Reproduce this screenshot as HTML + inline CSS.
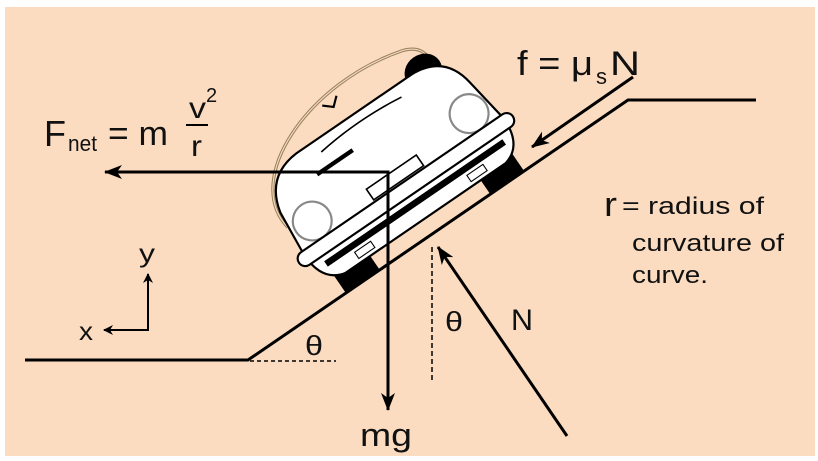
<!DOCTYPE html>
<html><head><meta charset="utf-8"><style>
html,body{margin:0;padding:0;background:#fff;}
svg{display:block;}
text{font-family:"Liberation Sans",sans-serif;fill:#111;}
</style></head><body>
<svg width="818" height="461" viewBox="0 0 818 461" xmlns="http://www.w3.org/2000/svg">
<defs>
<marker id="ah" markerWidth="10" markerHeight="10" refX="9" refY="5" orient="auto" markerUnits="userSpaceOnUse">
<path d="M0,0 L10,5 L0,10 L3,5 Z" fill="#000"/>
</marker>
<marker id="ahb" markerWidth="18" markerHeight="14" refX="17" refY="7" orient="auto" markerUnits="userSpaceOnUse">
<path d="M0,0 L18,7 L0,14 L5,7 Z" fill="#000"/>
</marker>
</defs>
<rect x="5" y="7" width="810" height="449" fill="#fbdcc0"/>
<polyline points="25,360 248,360 628,100 756,100" fill="none" stroke="#000" stroke-width="3"/>
<line x1="250" y1="361" x2="336" y2="361" stroke="#000" stroke-width="1.5" stroke-dasharray="4,3"/>
<line x1="432" y1="247" x2="432" y2="382" stroke="#000" stroke-width="1.5" stroke-dasharray="5,3"/>
<!-- car -->
<g transform="translate(398,178) rotate(-34.4) scale(1.08)">
  <path d="M-110,-20 C-120,-80 -20,-120 70,-95 C85,-90 88,-80 85,-72" fill="none" stroke="#9a8460" stroke-width="3"/>
  <path d="M-110,-20 C-120,-80 -20,-120 70,-95 C85,-90 88,-80 85,-72" fill="none" stroke="#fbdcc0" stroke-width="1"/>
  <rect x="-100" y="20" width="38" height="40" fill="#000"/>
  <rect x="62" y="20" width="38" height="40" fill="#000"/>
  <ellipse cx="-85" cy="-45" rx="18" ry="16" fill="#000"/>
  <ellipse cx="75" cy="-68" rx="18" ry="16" fill="#000"/>
  <path d="M-112,10 L-108,-35 Q-100,-70 -65,-72 L65,-72 Q100,-70 105,-35 L112,10 Q112,40 90,45 L-90,45 Q-112,40 -112,10 Z" fill="#fff" stroke="#000" stroke-width="2"/>
  <circle cx="-88" cy="-12" r="18" fill="#fff" stroke="#888" stroke-width="2"/>
  <circle cx="88" cy="-12" r="18" fill="#fff" stroke="#888" stroke-width="2"/>
  <path d="M-60,-45 L-20,-45" stroke="#000" stroke-width="4"/>
  <path d="M-45,-60 Q0,-66 45,-60" stroke="#000" stroke-width="1.5" fill="none"/>
  <rect x="-120" y="6" width="240" height="14" rx="7" fill="#fff" stroke="#000" stroke-width="2"/>
  <line x1="-100" y1="28" x2="100" y2="28" stroke="#000" stroke-width="6"/>
  <rect x="-30" y="-8" width="56" height="12" fill="#fff" stroke="#000" stroke-width="1.5"/>
  <rect x="-72" y="34" width="18" height="7" fill="#fff" stroke="#000"/>
  <rect x="54" y="34" width="18" height="7" fill="#fff" stroke="#000"/>
  <path d="M-20,-95 L-12,-88 L-4,-95" stroke="#000" stroke-width="2" fill="none"/>
</g>
<polyline points="388,410 388,172 105,172" fill="none" stroke="#000" stroke-width="3" marker-end="url(#ahb)"/>
<line x1="388" y1="330" x2="388" y2="410" stroke="#000" stroke-width="3" marker-end="url(#ahb)"/>
<line x1="567" y1="436" x2="438" y2="247" stroke="#000" stroke-width="3" marker-end="url(#ahb)"/>
<line x1="633" y1="77" x2="532" y2="147" stroke="#000" stroke-width="3" marker-end="url(#ahb)"/>
<line x1="148" y1="330" x2="104" y2="330" stroke="#000" stroke-width="2" marker-end="url(#ah)"/>
<line x1="148" y1="331" x2="148" y2="274" stroke="#000" stroke-width="2" marker-end="url(#ah)"/>
<text x="139" y="262" font-size="26" textLength="16" lengthAdjust="spacingAndGlyphs">y</text>
<text x="79" y="340" font-size="26" textLength="14" lengthAdjust="spacingAndGlyphs">x</text>
<text x="305" y="355" font-size="28" textLength="18" lengthAdjust="spacingAndGlyphs">θ</text>
<text x="445" y="331" font-size="28" textLength="18" lengthAdjust="spacingAndGlyphs">θ</text>
<text x="511" y="330" font-size="30" textLength="22" lengthAdjust="spacingAndGlyphs">N</text>
<text x="360" y="446" font-size="32" textLength="52" lengthAdjust="spacingAndGlyphs">mg</text>
<text x="44" y="146" font-size="36" textLength="22" lengthAdjust="spacingAndGlyphs">F</text>
<text x="68" y="151" font-size="22" textLength="29" lengthAdjust="spacingAndGlyphs">net</text>
<text x="108" y="145" font-size="34" textLength="60" lengthAdjust="spacingAndGlyphs">= m</text>
<line x1="186" y1="125" x2="208" y2="125" stroke="#000" stroke-width="2"/>
<text x="189" y="118" font-size="30" textLength="17" lengthAdjust="spacingAndGlyphs">v</text>
<text x="206" y="102" font-size="20">2</text>
<text x="191" y="156" font-size="30" textLength="11" lengthAdjust="spacingAndGlyphs">r</text>
<text x="517" y="75" font-size="34" textLength="76" lengthAdjust="spacingAndGlyphs">f = μ</text>
<text x="596" y="84" font-size="22">s</text>
<text x="610" y="75" font-size="34" textLength="30" lengthAdjust="spacingAndGlyphs">N</text>
<text x="604" y="216" font-size="34" textLength="13" lengthAdjust="spacingAndGlyphs">r</text>
<text x="622" y="214" font-size="24" textLength="142" lengthAdjust="spacingAndGlyphs">= radius of</text>
<text x="632" y="251" font-size="24" textLength="152" lengthAdjust="spacingAndGlyphs">curvature of</text>
<text x="632" y="283" font-size="24" textLength="76" lengthAdjust="spacingAndGlyphs">curve.</text>
</svg>
</body></html>
